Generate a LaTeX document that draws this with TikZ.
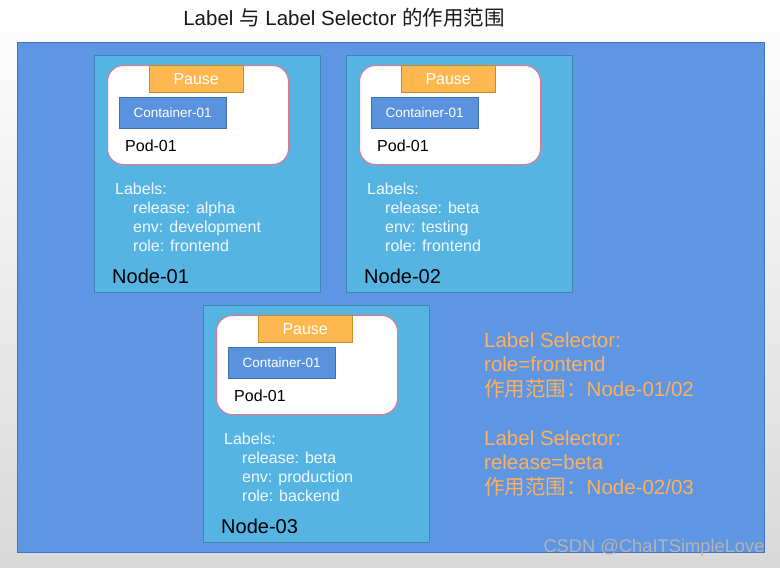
\documentclass[tikz,border=0pt]{standalone}
\usepackage{fontspec}
\setmainfont{Liberation Sans}
\newfontfamily\cjk{Noto Sans CJK SC}
\usetikzlibrary{positioning}
\definecolor{clusterfill}{HTML}{5E96E4}
\definecolor{clusteredge}{HTML}{4472C4}
\definecolor{nodefill}{HTML}{56B4E3}
\definecolor{nodeedge}{HTML}{3C86B0}
\definecolor{podedge}{HTML}{E8738D}
\definecolor{pausefill}{HTML}{FFB74F}
\definecolor{pauseedge}{HTML}{C98A2E}
\definecolor{ctrfill}{HTML}{5B92DE}
\definecolor{ctredge}{HTML}{3F6FB0}
\definecolor{lbltext}{HTML}{F2F8FF}
\definecolor{selorange}{HTML}{FFB05A}
\definecolor{markgray}{HTML}{B4B4B4}

\begin{document}
\begin{tikzpicture}[x=1pt,y=-1pt,
  nodebox/.style={draw=nodeedge,fill=nodefill,minimum width=226pt,minimum height=237pt,anchor=north west,inner sep=0pt},
  podbox/.style={draw=podedge,line width=1pt,fill=white,rounded corners=16pt,minimum width=181pt,minimum height=99pt,inner sep=0pt},
  pausebox/.style={draw=pauseedge,fill=pausefill,text=white,minimum width=94pt,minimum height=27pt,inner sep=0pt,font=\fontsize{16}{16}\selectfont},
  ctrbox/.style={draw=ctredge,fill=ctrfill,text=white,minimum width=107pt,minimum height=31pt,inner sep=0pt,font=\fontsize{13.5}{13.5}\selectfont},
  podtxt/.style={anchor=west,inner sep=0pt,font=\fontsize{16}{16}\selectfont},
  lbltxt/.style={anchor=north west,inner sep=0pt,align=left,text=lbltext,font=\fontsize{16}{19}\selectfont},
  nodetxt/.style={anchor=west,inner sep=0pt,font=\fontsize{20}{20}\selectfont},
  seltxt/.style={anchor=north west,inner sep=0pt,align=left,text=selorange,font=\fontsize{20.5}{24.5}\selectfont}]
\useasboundingbox (0,0) rectangle (780,568);
\fill[top color=white,bottom color=black!15] (0,0) rectangle (780,568);
\node[anchor=center,inner sep=0pt,text=black!90,font=\fontsize{20.5}{20.5}\selectfont] (title) at (344,18) {Label {\cjk 与} Label Selector {\cjk 的作用范围}};
\node[draw=clusteredge,fill=clusterfill,minimum width=747pt,minimum height=510pt,anchor=north west,inner sep=0pt] (cluster) at (17,42) {};
% Node-01
\node[nodebox] (node1) at (94,55) {};
\node[podbox,below right=10pt and 13pt of node1.north west] (pod1) {};
\node[pausebox,below right=0pt and 42pt of pod1.north west] (pause1) {Pause};
\node[ctrbox,below right=32pt and 12pt of pod1.north west] (ctr1) {Container-01};
\node[podtxt] (podname1) at (125,146) {Pod-01};
\node[lbltxt] (labels1) at (115,183) {Labels:\\\hspace*{18pt}release: alpha\\\hspace*{18pt}env: development\\\hspace*{18pt}role: frontend};
\node[nodetxt] (nodename1) at (112,276) {Node-01};
% Node-02
\node[nodebox] (node2) at (346,55) {};
\node[podbox,below right=10pt and 13pt of node2.north west] (pod2) {};
\node[pausebox,below right=0pt and 42pt of pod2.north west] (pause2) {Pause};
\node[ctrbox,below right=32pt and 12pt of pod2.north west] (ctr2) {Container-01};
\node[podtxt] (podname2) at (377,146) {Pod-01};
\node[lbltxt] (labels2) at (367,183) {Labels:\\\hspace*{18pt}release: beta\\\hspace*{18pt}env: testing\\\hspace*{18pt}role: frontend};
\node[nodetxt] (nodename2) at (364,276) {Node-02};
% Node-03
\node[nodebox] (node3) at (203,305) {};
\node[podbox,below right=10pt and 13pt of node3.north west] (pod3) {};
\node[pausebox,below right=0pt and 42pt of pod3.north west] (pause3) {Pause};
\node[ctrbox,below right=32pt and 12pt of pod3.north west] (ctr3) {Container-01};
\node[podtxt] (podname3) at (234,396) {Pod-01};
\node[lbltxt] (labels3) at (224,433) {Labels:\\\hspace*{18pt}release: beta\\\hspace*{18pt}env: production\\\hspace*{18pt}role: backend};
\node[nodetxt] (nodename3) at (221,526) {Node-03};
% selectors
\node[seltxt] (sel1) at (484,332) {Label Selector:\\role=frontend\\{\cjk 作用范围：}Node-01/02};
\node[seltxt] (sel2) at (484,430) {Label Selector:\\release=beta\\{\cjk 作用范围：}Node-02/03};
\node[anchor=center,inner sep=0pt,text=markgray,font=\fontsize{18.3}{18.3}\selectfont] (mark) at (654,548) {CSDN @ChaITSimpleLove};
\end{tikzpicture}
\end{document}
